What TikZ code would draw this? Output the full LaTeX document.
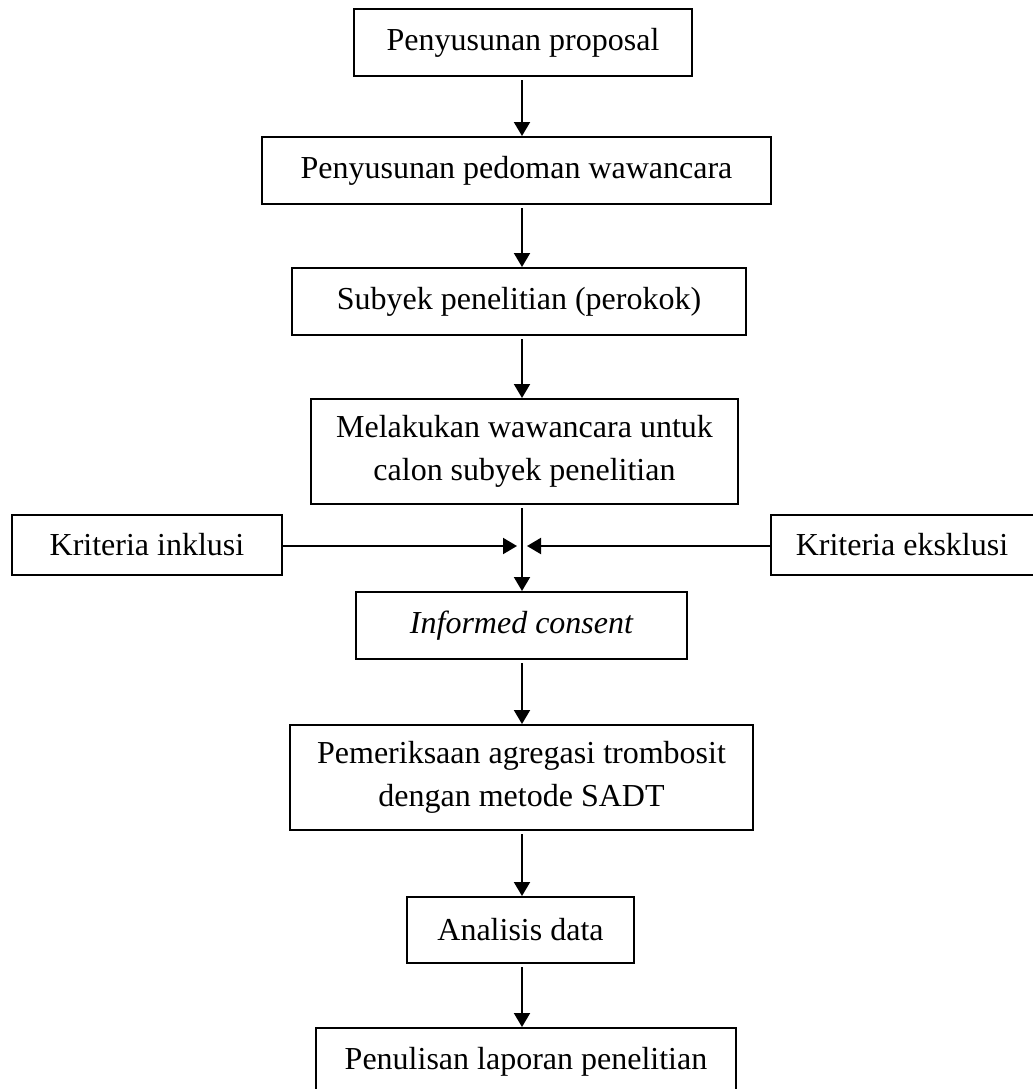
\documentclass[tikz,border=0pt]{standalone}
\usepackage{fontspec}
\setmainfont{Liberation Serif}
\usetikzlibrary{arrows.meta}

\begin{document}
\begin{tikzpicture}[x=0.5pt,y=0.5pt,
  every node/.style={font=\fontsize{16}{21.7}\selectfont},
  stepbox/.style={draw,line width=1pt,align=center,inner sep=0pt},
  flow/.style={line width=1pt,shorten <=1.5pt,-{Triangle[length=7pt,width=8pt]}}]
  \useasboundingbox (0,0) rectangle (1033,-1089);
  % main column
  \node[stepbox,minimum width=169pt,minimum height=33.5pt] (prop) at (523,-42.5) {Penyusunan proposal};
  \node[stepbox,minimum width=254.5pt,minimum height=33.5pt] (pedoman) at (516.5,-170.5) {Penyusunan pedoman wawancara};
  \node[stepbox,minimum width=227pt,minimum height=33.5pt] (subyek) at (519,-301.5) {Subyek penelitian (perokok)};
  \node[stepbox,minimum width=213.5pt,minimum height=52.5pt] (wawancara) at (524.5,-451.5) {Melakukan wawancara untuk\\calon subyek penelitian};
  \node[stepbox,minimum width=165.5pt,minimum height=33.5pt] (consent) at (521.5,-625.5) {\itshape Informed consent};
  \node[stepbox,minimum width=231.5pt,minimum height=52.5pt] (sadt) at (521.5,-777.5) {Pemeriksaan agregasi trombosit\\dengan metode SADT};
  \node[stepbox,minimum width=113.5pt,minimum height=33pt] (analisis) at (520.5,-930) {Analisis data};
  \node[stepbox,minimum width=210pt,minimum height=33.5pt] (laporan) at (526,-1061.5) {Penulisan laporan penelitian};
  % criteria
  \node[stepbox,minimum width=135pt,minimum height=30pt] (inklusi) at (147,-545) {Kriteria inklusi};
  \node[stepbox,minimum width=135pt,minimum height=30pt] (eksklusi) at (906,-545) {};
  \node at (902,-545) {Kriteria eksklusi};
  \coordinate (join) at (522,-546);

  \draw[flow] (prop.south -| join) -- (pedoman.north -| join);
  \draw[flow] (pedoman.south -| join) -- (subyek.north -| join);
  \draw[flow] (subyek.south -| join) -- (wawancara.north -| join);
  \draw[flow] (wawancara.south -| join) -- (consent.north -| join);
  \draw[flow] (consent.south -| join) -- (sadt.north -| join);
  \draw[flow] (sadt.south -| join) -- (analisis.north -| join);
  \draw[flow] (analisis.south -| join) -- (laporan.north -| join);
  \draw[flow,shorten <=0pt] (inklusi.east |- join) -- ([xshift=-2.5pt]join);
  \draw[flow,shorten <=0pt] (eksklusi.west |- join) -- ([xshift=2.5pt]join);
\end{tikzpicture}
\end{document}
